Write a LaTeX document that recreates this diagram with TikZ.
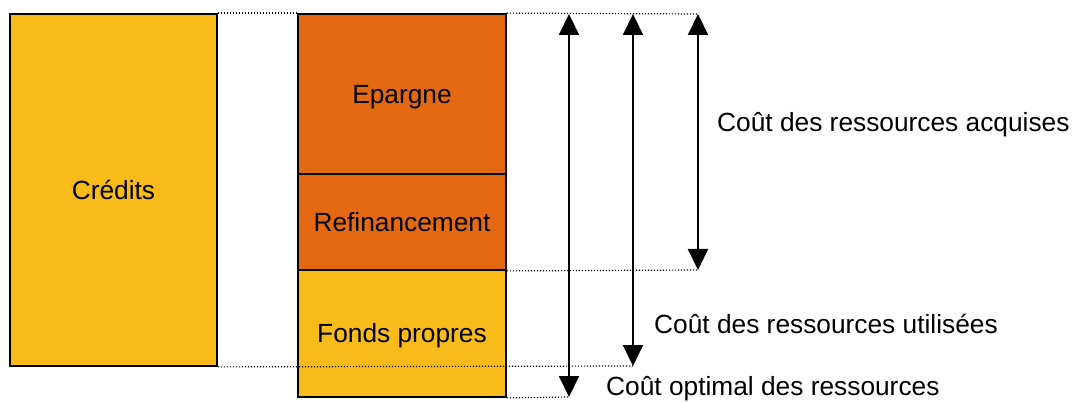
\documentclass[tikz,border=0pt]{standalone}
\usepackage{fontspec}
\setmainfont{Liberation Sans}
\usetikzlibrary{arrows.meta}
\definecolor{orng}{HTML}{E56912}
\definecolor{ylw}{HTML}{F9BB1A}
\tikzset{
  blk/.style={draw=black, line width=1.8pt, inner sep=0pt, text height=18.6pt, text depth=0pt, font=\fontsize{26.3}{30}\selectfont},
  dotln/.style={line width=1.2pt, dotted, dash pattern=on 1.2pt off 1.8pt},
  dim/.style={line width=2pt, {Triangle[width=20pt,length=21pt]}-{Triangle[width=20pt,length=21pt]}},
  lbl/.style={anchor=base west, inner sep=0pt, font=\fontsize{26.3}{30}\selectfont},
}
\begin{document}
\begin{tikzpicture}[x=1pt,y=-1pt]
\useasboundingbox (0,0) rectangle (1076,403);
% boxes
\node[blk, fill=ylw, minimum width=207pt, minimum height=352pt] (cred) at (113.5,190) {Crédits};
\node[blk, fill=orng, minimum width=208pt, minimum height=160pt] (epar) at (402,94) {Epargne};
\node[blk, fill=orng, minimum width=208pt, minimum height=96pt] (refi) at (402,222) {Refinancement};
\node[blk, fill=ylw, minimum width=208pt, minimum height=127pt] (fond) at (402,333.5) {Fonds propres};
% arrow ends
\coordinate (a1t) at (569,14);
\coordinate (a1b) at (569,397);
\coordinate (a2t) at (633,14);
\coordinate (a2b) at (633,366);
\coordinate (a3t) at (698,14);
\coordinate (a3b) at (698,270);
% dotted lines
\draw[dotln] (cred.north east) -- (epar.north west);
\draw[dotln] (epar.north east) -- (a3t);
\draw[dotln] (refi.south east) -- (a3b);
\draw[dotln] (cred.south east) -- (a2b);
\draw[dotln] (fond.south east) -- (a1b);
% arrows
\draw[dim] (a1t) -- (a1b);
\draw[dim] (a2t) -- (a2b);
\draw[dim] (a3t) -- (a3b);
% labels
\node[lbl] (l1) at (717,131.5) {Coût des ressources acquises};
\node[lbl] (l2) at (654,333.5) {Coût des ressources utilisées};
\node[lbl] (l3) at (606,395.5) {Coût optimal des ressources};
\end{tikzpicture}
\end{document}
